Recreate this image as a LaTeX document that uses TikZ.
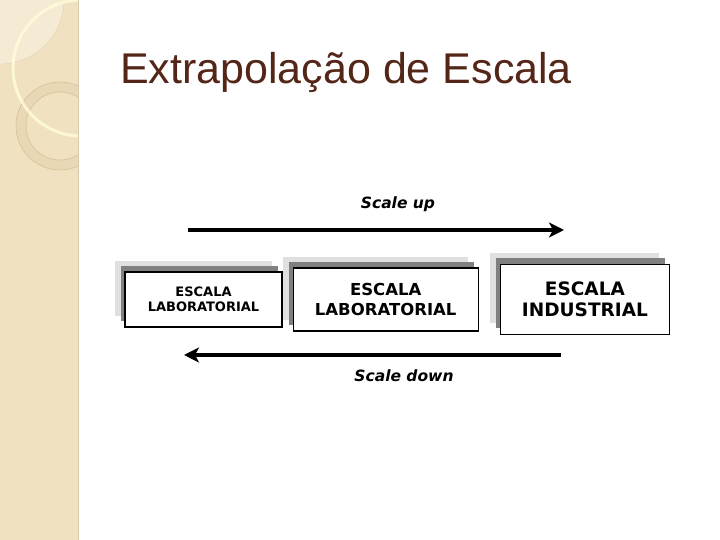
\documentclass[tikz,border=0pt]{standalone}
\usepackage{fontspec}
\setmainfont{Liberation Sans}
\newfontfamily\boxfont{DejaVu Sans}
\usepackage{xcolor}
\usetikzlibrary{arrows.meta, positioning, shadows}

\definecolor{titlebrown}{RGB}{84,38,24}
\definecolor{stripbeige}{RGB}{240,225,192}
\definecolor{stripline}{RGB}{214,200,172}
\definecolor{ringbeige}{RGB}{214,192,150}

\begin{document}
\begin{tikzpicture}[
  x=1pt, y=1pt,
  node distance=10pt and 10pt,
  box/.style={rectangle, draw=black, line width=1.2pt, fill=white,
             align=center, inner sep=0pt,
             general shadow={fill=black!12, draw=none, shadow xshift=-10pt, shadow yshift=11pt},
             general shadow={fill=black!50, draw=none, shadow xshift=-4pt, shadow yshift=6pt}},
  smallbox/.style={box, minimum width=157pt, minimum height=55pt,
             font=\boxfont\bfseries\fontsize{13}{15.5}\selectfont},
  midbox/.style={box, minimum width=185pt, minimum height=63pt,
             font=\boxfont\bfseries\fontsize{16.5}{19.5}\selectfont},
  bigbox/.style={box, minimum width=169pt, minimum height=70pt,
             font=\boxfont\bfseries\fontsize{18.5}{21.5}\selectfont},
  arrow/.style={-{Stealth[length=15pt, width=15pt, inset=4pt]}, line width=4pt},
  lbl/.style={font=\boxfont\bfseries\itshape\fontsize{15.5}{18}\selectfont}
]
\useasboundingbox (0,0) rectangle (720,540);

% side strip
\fill[stripbeige] (0,0) rectangle (78,540);
\begin{scope}
  \clip (0,0) rectangle (78,540);
  \fill[white, opacity=0.35] (0,540) circle (64);
  \draw[ringbeige, opacity=0.6] (0,540) circle (64);
  \fill[ringbeige, opacity=0.25, even odd rule] (60,414) circle (44) (60,414) circle (34);
  \draw[ringbeige, line width=0.6pt] (60,414) circle (44);
  \draw[ringbeige, line width=0.6pt] (60,414) circle (34);
  \draw[white!85!yellow, line width=3pt, opacity=0.8] (81,472) circle (68);
\end{scope}
\draw[stripline, line width=1pt] (78,0) -- (78,540);

% title
\node[anchor=base west, text=titlebrown, font=\fontsize{43}{48}\selectfont, inner sep=0pt]
  (title) at (120,456) {Extrapolação de Escala};

% boxes
\node[smallbox] (lab) at (203.5,240.5) {ESCALA\\LABORATORIAL};
\node[midbox, right=10pt of lab] (lab2) {ESCALA\\LABORATORIAL};
\node[bigbox, right=21pt of lab2] (ind) {ESCALA\\INDUSTRIAL};

% arrows
\coordinate (upstart) at (188,310);
\coordinate (upend) at (564,310);
\coordinate (downstart) at (561,185);
\coordinate (downend) at (184,185);

\draw[arrow] (upstart) -- (upend);
\draw[arrow] (downstart) -- (downend);
\node[lbl] (uplbl) at (398,336) {Scale up};
\node[lbl] (downlbl) at (404,164) {Scale down};

\end{tikzpicture}
\end{document}
